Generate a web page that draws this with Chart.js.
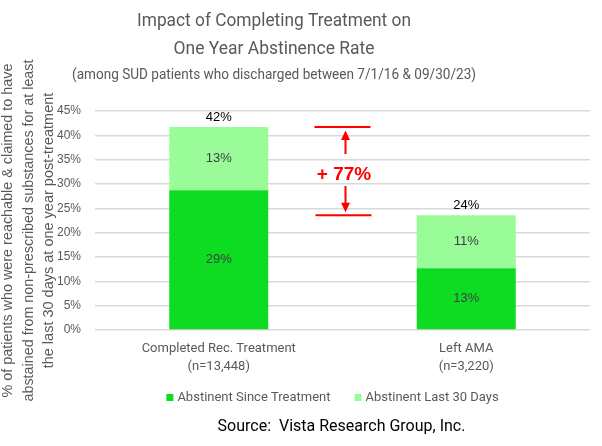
<!DOCTYPE html>
<html>
<head>
<meta charset="utf-8">
<script src="https://cdn.jsdelivr.net/npm/chart.js@4.4.1/dist/chart.umd.min.js"></script>
<style>
  html,body{margin:0;padding:0;background:#fff;}
  #wrap{width:602px;height:446px;position:relative;}
</style>
</head>
<body>
<div id="wrap"><canvas id="c" width="602" height="446"></canvas></div>
<script>
// ---- data ----
const categories = [['Completed Rec. Treatment', '(n=13,448)'], ['Left AMA', '(n=3,220)']];
const seriesNames = ['Abstinent Since Treatment', 'Abstinent Last 30 Days'];
const abstinentSinceTreatment = [28.7, 12.7];
const abstinentLast30Days = [13.0, 10.9];
const yTickMin = 0, yTickMax = 45, yTickStep = 5;
const titleLines = ['Impact of Completing Treatment on', 'One Year Abstinence Rate'];
const subtitleText = '(among SUD patients who discharged between 7/1/16 & 09/30/23)';
const yTitleLines = ['% of patients who were reachable & claimed to have',
  'abstained from non-prescribed substances for at least',
  'the last 30 days at one year post-treatment'];
const sourceText = 'Source:  Vista Research Group, Inc.';

const totals = abstinentSinceTreatment.map((v, i) => v + abstinentLast30Days[i]);

const GREY = '#595959';
const SANS = '"Liberation Sans", Arial, sans-serif';
const ROBO = 'Roboto, "Open Sans", sans-serif';

const textPlugin = {
  id: 'texts',
  afterDraw(chart) {
    const ctx = chart.ctx;
    const ca = chart.chartArea;
    ctx.save();
    // titles
    ctx.fillStyle = GREY;
    ctx.textAlign = 'center';
    ctx.textBaseline = 'middle';
    ctx.font = '19px ' + ROBO;
    ctx.fillText(titleLines[0], 274, 21, 274);
    ctx.fillText(titleLines[1], 274, 49, 201);
    ctx.font = '15px ' + ROBO;
    ctx.fillText(subtitleText, 274, 75, 404);
    // y axis title
    ctx.font = '14.5px ' + SANS;
    const yc = (ca.top + ca.bottom) / 2 + 10;
    const xs = [8, 28.5, 49];
    const maxW = [334, 342, 278];
    yTitleLines.forEach((t, i) => {
      ctx.save();
      ctx.translate(xs[i], yc);
      ctx.rotate(-Math.PI / 2);
      ctx.fillText(t, 0, 0, maxW[i]);
      ctx.restore();
    });
    // legend (drawn from the datasets)
    ctx.font = '13px ' + ROBO;
    ctx.textAlign = 'left';
    const ds = chart.data.datasets;
    const box = 7, gap = 4, itemGap = 24;
    const widths = ds.map(d => box + gap + ctx.measureText(d.label).width);
    const totalW = widths.reduce((a, b) => a + b, 0) + itemGap * (ds.length - 1);
    let lx = (ca.left + ca.right) / 2 - 10 - totalW / 2;
    const ly = 397.5;
    ds.forEach((d, i) => {
      ctx.fillStyle = d.backgroundColor;
      ctx.fillRect(lx, ly - box / 2, box, box);
      ctx.fillStyle = GREY;
      ctx.fillText(d.label, lx + box + gap, ly);
      lx += widths[i] + itemGap;
    });
    // source
    ctx.textAlign = 'center';
    ctx.fillStyle = '#000';
    ctx.font = '16px ' + ROBO;
    ctx.fillText(sourceText, (ca.left + ca.right) / 2 - 1, 427);
    ctx.restore();
  }
};

const labelPlugin = {
  id: 'barLabels',
  afterDatasetsDraw(chart) {
    const ctx = chart.ctx;
    const yS = chart.scales.y;
    const m0 = chart.getDatasetMeta(0), m1 = chart.getDatasetMeta(1);
    ctx.save();
    ctx.textAlign = 'center';
    ctx.textBaseline = 'middle';
    ctx.font = '13px ' + SANS;
    ctx.fillStyle = '#404040';
    [m0, m1].forEach((m, di) => {
      m.data.forEach((bar, i) => {
        const v = chart.data.datasets[di].data[i];
        ctx.fillText(Math.round(v) + '%', bar.x, (bar.y + bar.base) / 2);
      });
    });
    ctx.fillStyle = '#000';
    totals.forEach((t, i) => {
      ctx.fillText(Math.round(t) + '%', m1.data[i].x, yS.getPixelForValue(t) - 10);
    });

    // difference annotation
    const xm = (m1.data[0].x + m1.data[1].x) / 2;
    const yTop = yS.getPixelForValue(totals[0]);
    const yBot = yS.getPixelForValue(totals[1]);
    const yMid = (yTop + yBot) / 2;
    const xa = xm + 3;
    ctx.strokeStyle = '#ff0000';
    ctx.fillStyle = '#ff0000';
    ctx.lineWidth = 2;
    ctx.beginPath();
    ctx.moveTo(xm - 28, yTop); ctx.lineTo(xm + 28, yTop);
    ctx.moveTo(xm - 27, yBot); ctx.lineTo(xm + 29, yBot);
    ctx.moveTo(xa, yMid - 17); ctx.lineTo(xa, yTop + 12);
    ctx.moveTo(xa, yMid + 15); ctx.lineTo(xa, yBot - 11);
    ctx.stroke();
    ctx.beginPath();
    ctx.moveTo(xa, yTop + 3.5); ctx.lineTo(xa - 4.5, yTop + 13); ctx.lineTo(xa + 4.5, yTop + 13); ctx.closePath();
    ctx.moveTo(xa, yBot - 3); ctx.lineTo(xa - 4.5, yBot - 12.5); ctx.lineTo(xa + 4.5, yBot - 12.5); ctx.closePath();
    ctx.fill();
    const inc = Math.round((totals[0] / totals[1] - 1) * 100);
    ctx.font = 'bold 19px ' + SANS;
    ctx.fillText('+ ' + inc + '%', xm + 1.5, yMid + 3.5);
    ctx.restore();
  }
};

new Chart(document.getElementById('c'), {
  type: 'bar',
  data: {
    labels: categories,
    datasets: [
      { label: seriesNames[0], data: abstinentSinceTreatment, backgroundColor: '#0ddc22', borderWidth: 0,
        barPercentage: 0.5, categoryPercentage: 0.8 },
      { label: seriesNames[1], data: abstinentLast30Days, backgroundColor: '#99fc98', borderWidth: 0,
        barPercentage: 0.5, categoryPercentage: 0.8 }
    ]
  },
  options: {
    responsive: false,
    animation: false,
    devicePixelRatio: 1,
    layout: { padding: { top: 111, right: 12, bottom: 66, left: 0 } },
    plugins: {
      legend: { display: false },
      title: { display: false },
      tooltip: { enabled: false }
    },
    scales: {
      x: {
        stacked: true,
        grid: { display: false, drawTicks: false },
        border: { display: false },
        ticks: { color: GREY, padding: 10, font: { size: 13, family: ROBO, lineHeight: 1.385 } },
        afterFit(scale) { scale.height = 50; }
      },
      y: {
        stacked: true,
        min: yTickMin, max: yTickMax,
        grid: { color: '#d9d9d9', lineWidth: 1.5, drawTicks: false },
        border: { display: false },
        ticks: { stepSize: yTickStep, color: GREY, padding: 14, font: { size: 12, family: SANS },
          callback: v => v + '%' },
        afterFit(scale) { scale.width = 95; }
      }
    }
  },
  plugins: [labelPlugin, textPlugin]
});
</script>
</body>
</html>
